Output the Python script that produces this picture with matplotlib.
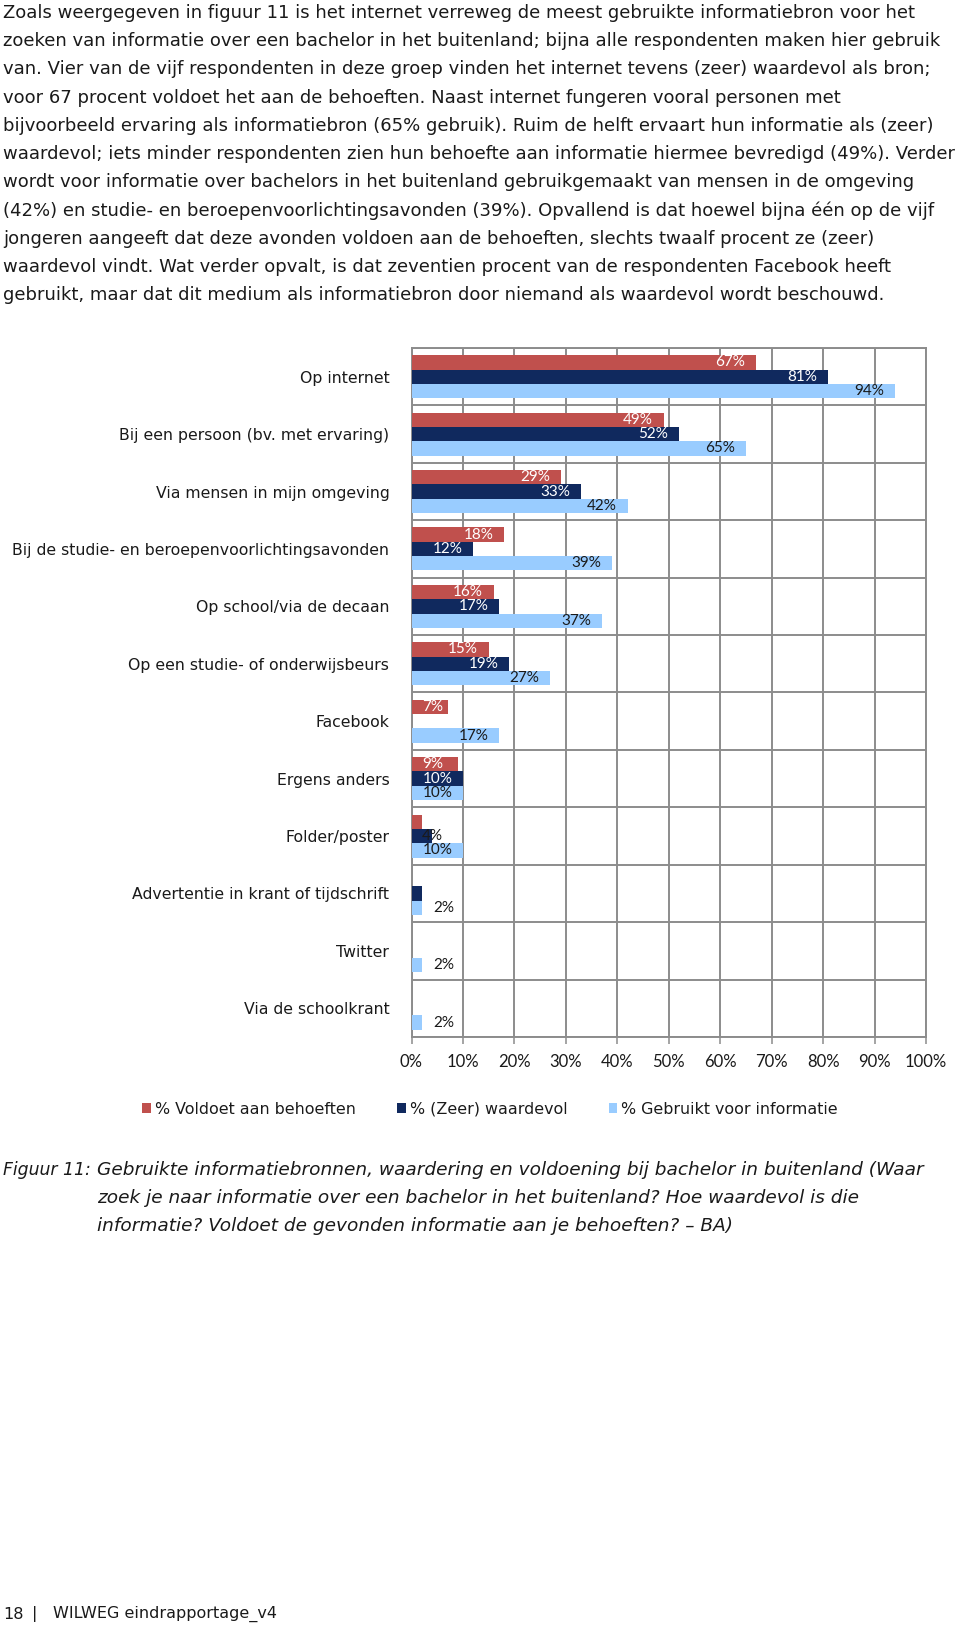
import matplotlib
matplotlib.use('Agg')
import matplotlib.pyplot as plt
from matplotlib.font_manager import FontProperties
from matplotlib.textpath import TextPath
import numpy as np

plt.rcParams['font.family'] = ['DejaVu Sans']

# Daten aus Figuur 11
categorieen = ['Op internet', 'Bij een persoon (bv. met ervaring)', 'Via mensen in mijn omgeving',
               'Bij de studie- en beroepenvoorlichtingsavonden', 'Op school/via de decaan',
               'Op een studie- of onderwijsbeurs', 'Facebook', 'Ergens anders', 'Folder/poster',
               'Advertentie in krant of tijdschrift', 'Twitter', 'Via de schoolkrant']
voldoet = [67, 49, 29, 18, 16, 15, 7, 9, 2, 0, 0, 0]
waardevol = [81, 52, 33, 12, 17, 19, 0, 10, 4, 2, 0, 0]
gebruikt = [94, 65, 42, 39, 37, 27, 17, 10, 10, 2, 2, 2]
reeks_namen = ['% Voldoet aan behoeften', '% (Zeer) waardevol', '% Gebruikt voor informatie']
xticks = [0, 10, 20, 30, 40, 50, 60, 70, 80, 90, 100]

alinea = [
    'Zoals weergegeven in figuur 11 is het internet verreweg de meest gebruikte informatiebron voor het',
    'zoeken van informatie over een bachelor in het buitenland; bijna alle respondenten maken hier gebruik',
    'van. Vier van de vijf respondenten in deze groep vinden het internet tevens (zeer) waardevol als bron;',
    'voor 67 procent voldoet het aan de behoeften. Naast internet fungeren vooral personen met',
    'bijvoorbeeld ervaring als informatiebron (65% gebruik). Ruim de helft ervaart hun informatie als (zeer)',
    'waardevol; iets minder respondenten zien hun behoefte aan informatie hiermee bevredigd (49%). Verder',
    'wordt voor informatie over bachelors in het buitenland gebruikgemaakt van mensen in de omgeving',
    '(42%) en studie- en beroepenvoorlichtingsavonden (39%). Opvallend is dat hoewel bijna één op de vijf',
    'jongeren aangeeft dat deze avonden voldoen aan de behoeften, slechts twaalf procent ze (zeer)',
    'waardevol vindt. Wat verder opvalt, is dat zeventien procent van de respondenten Facebook heeft',
    'gebruikt, maar dat dit medium als informatiebron door niemand als waardevol wordt beschouwd.',
]
bijschrift = [
    'Gebruikte informatiebronnen, waardering en voldoening bij bachelor in buitenland (Waar',
    'zoek je naar informatie over een bachelor in het buitenland? Hoe waardevol is die',
    'informatie? Voldoet de gevonden informatie aan je behoeften? \u2013 BA)',
]


def passende_grootte(tekst, breedte_px, **kw):
    # Schriftgroesse (pt) so, dass der Text ungefaehr breedte_px Pixel breit ist (dpi 100)
    fp = FontProperties(family='DejaVu Sans', size=10, **kw)
    w = TextPath((0, 0), tekst, prop=fp).get_extents().width
    return 10 * breedte_px * 0.72 / w


W, H = 960, 1626
fig = plt.figure(figsize=(W / 100, H / 100), dpi=100)
fig.patch.set_facecolor('white')
tekstkleur = '#1a1a1a'

# Fliesstext oben
fs_alinea = min(passende_grootte(r, 948) for r in alinea[:3] + alinea[4:8])
for i, regel in enumerate(alinea):
    fig.text(3 / W, 1 - (13 + i * 28.2) / H, regel, fontsize=fs_alinea, color=tekstkleur,
             ha='left', va='center')

# Balkendiagramm
ax = fig.add_axes([411.5 / W, 1 - 1037 / H, (926 - 411.5) / W, (1037 - 348) / H])
y = np.arange(len(categorieen))
kleuren = ['#C0504D', '#10295E', '#99CCFF']
reeksen = [voldoet, waardevol, gebruikt]
hoogte = 0.25
balken = []
for k, (waarden, kleur) in enumerate(zip(reeksen, kleuren)):
    b = ax.barh(y + (k - 1) * hoogte, waarden, height=hoogte, color=kleur, zorder=3,
                label=reeks_namen[k])
    balken.append(b)
    for yi, v in zip(y + (k - 1) * hoogte, waarden):
        if v == 0 or (k < 2 and v < 4):
            continue
        if v - 5 >= 4.2:
            xc = v - 5
        elif v >= 4:
            xc = 4.2 if v > 4 else v
        else:
            xc = v + 4.2
        if k < 2 and xc < v - 2:
            tc = 'white'
        else:
            tc = tekstkleur
        ax.text(xc, yi, f'{v}%', ha='center', va='center', fontsize=11, color=tc, zorder=4,
                family='Lato')

ax.set_xlim(0, 100)
ax.set_ylim(len(categorieen) - 0.5, -0.5)
ax.set_xticks(xticks)
ax.set_xticklabels([f'{t}%' for t in xticks], fontsize=12, color=tekstkleur, family='Lato')
ax.set_yticks(y)
fs_cat = passende_grootte(categorieen[3], 374)
ax.set_yticklabels(categorieen, fontsize=fs_cat, color=tekstkleur)
ax.tick_params(axis='y', length=0, pad=16)
ax.tick_params(axis='x', length=5, width=1.1, color='#8c8c8c', pad=7)
ax.set_yticks(np.arange(len(categorieen) + 1) - 0.5, minor=True)
ax.tick_params(axis='y', which='minor', length=0)
ax.grid(axis='x', which='major', color='#8c8c8c', linewidth=1.4, zorder=1)
ax.grid(axis='y', which='minor', color='#8c8c8c', linewidth=1.4, zorder=1)
for s in ax.spines.values():
    s.set_color('#8c8c8c')
    s.set_linewidth(1.4)

# Legende
fs_leg = passende_grootte(reeks_namen[0], 198)
fig.legend(handles=balken, loc='center', bbox_to_anchor=(490 / W, 1 - 1109 / H), ncol=3,
           frameon=False, fontsize=fs_leg, handlelength=0.55, handleheight=0.55,
           handletextpad=0.25, columnspacing=2.6, labelcolor=tekstkleur)

# Bijschrift
fs_bij = passende_grootte(bijschrift[0], 826, style='oblique')
fs_fig = min(fs_bij, passende_grootte('Figuur 11:', 86, style='oblique'))
fig.text(3 / W, 1 - 1170 / H, 'Figuur 11:', fontsize=fs_fig, style='oblique', color=tekstkleur,
         ha='left', va='center')
for i, regel in enumerate(bijschrift):
    fig.text(97 / W, 1 - (1170 + i * 28.2) / H, regel, fontsize=fs_bij, style='oblique',
             color=tekstkleur, ha='left', va='center')

# Fusszeile
fs_voet = passende_grootte('WILWEG eindrapportage_v4', 222)
fig.text(3 / W, 1 - 1614 / H, '18', fontsize=fs_voet, color=tekstkleur, ha='left', va='center')
fig.text(32 / W, 1 - 1614 / H, '|', fontsize=fs_voet, color=tekstkleur, ha='left', va='center')
fig.text(53 / W, 1 - 1614 / H, 'WILWEG eindrapportage_v4', fontsize=fs_voet, color=tekstkleur,
         ha='left', va='center')

fig.savefig('out.png', dpi=100, facecolor='white')
